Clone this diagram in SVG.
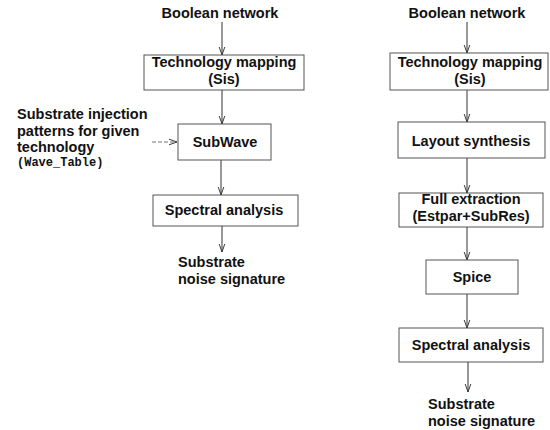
<svg xmlns="http://www.w3.org/2000/svg" width="550" height="430" viewBox="0 0 550 430">
<defs>
<style>
.t{font-family:"Liberation Sans",Arial,sans-serif;font-weight:bold;font-size:14.5px;fill:#111}
.c{text-anchor:middle}
.m{font-family:"Liberation Mono","Courier New",monospace;font-weight:bold;font-size:12px;fill:#111}
.box{fill:none;stroke:#555;stroke-width:1}
.ar{fill:none;stroke:#333;stroke-width:1;marker-end:url(#ah)}
.dash{stroke:#777;stroke-dasharray:4 2}
</style>
<marker id="ah" viewBox="0 0 10 10" refX="10" refY="5" markerWidth="8" markerHeight="8" markerUnits="userSpaceOnUse" orient="auto">
<path d="M0,1.5 L10,5 L0,8.5" fill="none" stroke="#333" stroke-width="1.2"/>
</marker>
</defs>
<rect width="550" height="430" fill="#fff"/>

<g id="connectors">
<line class="ar" x1="222" y1="22" x2="222" y2="55"/>
<line class="ar" x1="222" y1="90" x2="222" y2="124"/>
<line class="ar dash" x1="152" y1="142" x2="177" y2="142"/>
<line class="ar" x1="221" y1="160" x2="221" y2="195"/>
<line class="ar" x1="222" y1="226" x2="222" y2="252"/>
<line class="ar" x1="467" y1="22" x2="467" y2="53"/>
<line class="ar" x1="467" y1="90" x2="467" y2="122"/>
<line class="ar" x1="467" y1="158" x2="467" y2="193"/>
<line class="ar" x1="467" y1="227" x2="467" y2="260"/>
<line class="ar" x1="467" y1="294" x2="467" y2="328"/>
<line class="ar" x1="468" y1="362" x2="468" y2="392"/>
</g>

<g id="l-input"><text class="t c" x="220" y="18">Boolean network</text></g>
<g id="l-techmap">
<rect class="box" x="144" y="55" width="160" height="35"/>
<text class="t c"><tspan x="224" y="67">Technology mapping</tspan><tspan x="224" y="83.5">(Sis)</tspan></text>
</g>
<g id="l-patterns">
<text class="t"><tspan x="17" y="119">Substrate injection</tspan><tspan x="17" y="135.5">patterns for given</tspan><tspan x="17" y="152">technology</tspan><tspan class="m" x="17" y="165.5">(Wave_Table)</tspan></text>
</g>
<g id="l-subwave">
<rect class="box" x="178" y="124" width="93" height="36"/>
<text class="t c" x="225" y="147">SubWave</text>
</g>
<g id="l-spectral">
<rect class="box" x="153" y="195" width="145" height="31"/>
<text class="t c" x="224" y="215">Spectral analysis</text>
</g>
<g id="l-output">
<text class="t"><tspan x="178" y="267">Substrate</tspan><tspan x="178" y="283.5">noise signature</tspan></text>
</g>

<g id="r-input"><text class="t c" x="467" y="18">Boolean network</text></g>
<g id="r-techmap">
<rect class="box" x="390" y="53" width="158" height="37"/>
<text class="t c"><tspan x="470" y="67">Technology mapping</tspan><tspan x="470" y="83.5">(Sis)</tspan></text>
</g>
<g id="r-layout">
<rect class="box" x="398" y="122" width="147" height="36"/>
<text class="t c" x="471" y="146">Layout synthesis</text>
</g>
<g id="r-extraction">
<rect class="box" x="399" y="193" width="144" height="34"/>
<text class="t c"><tspan x="471" y="204">Full extraction</tspan><tspan x="471" y="220.5">(Estpar+SubRes)</tspan></text>
</g>
<g id="r-spice">
<rect class="box" x="426" y="260" width="92" height="34"/>
<text class="t c" x="472" y="282">Spice</text>
</g>
<g id="r-spectral">
<rect class="box" x="399" y="328" width="144" height="34"/>
<text class="t c" x="471" y="350">Spectral analysis</text>
</g>
<g id="r-output">
<text class="t"><tspan x="428" y="409">Substrate</tspan><tspan x="428" y="425.5">noise signature</tspan></text>
</g>
</svg>
